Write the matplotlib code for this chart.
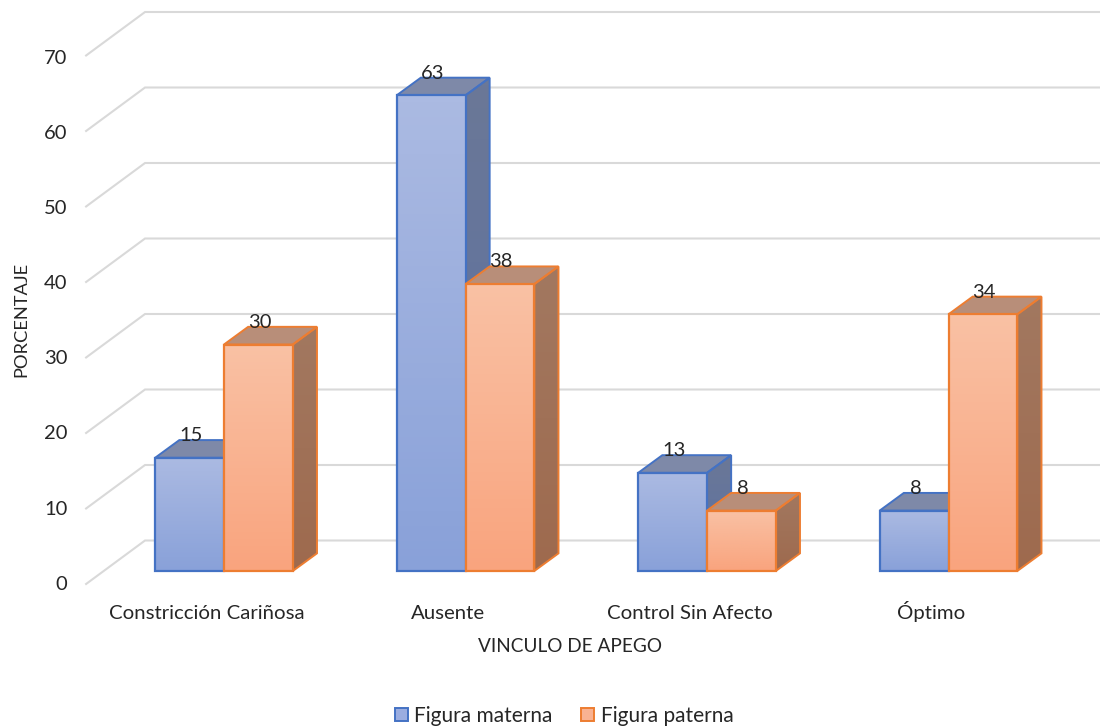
import numpy as np
import matplotlib
matplotlib.use("Agg")
import matplotlib.pyplot as plt
from matplotlib.colors import LinearSegmentedColormap
from matplotlib.patches import Patch, Polygon

plt.rcParams["font.family"] = ["Lato", "DejaVu Sans"]

# Data
categorias = ["Constricción Cariñosa", "Ausente", "Control Sin Afecto", "Óptimo"]
materna = [15, 63, 13, 8]
paterna = [30, 38, 8, 34]
ticks_y = [0, 10, 20, 30, 40, 50, 60, 70]

# Fake 3D geometry, in data units
ancho = 0.285
prof_x, prof_y = 0.1, 2.34
pared_x0, pared_x1 = -0.571, -0.327
pared_y0, pared_y1 = -1.72, 4.04
texto = "#262626"


def gradiente(ax, x0, x1, y0, y1, arriba, abajo, puntos):
    # vertical gradient clipped to a polygon
    cmap = LinearSegmentedColormap.from_list("g", [arriba, abajo])
    im = ax.imshow(np.linspace(0, 1, 64).reshape(-1, 1), cmap=cmap, aspect="auto",
                   extent=[x0, x1, y0, y1], origin="upper", zorder=3)
    poly = Polygon(puntos, closed=True, facecolor="none", edgecolor="none", zorder=3)
    ax.add_patch(poly)
    im.set_clip_path(poly)


def barra(ax, x0, v, colores):
    borde, frente, lado, tapa = colores
    x1 = x0 + ancho
    lado_pts = [(x1, 0), (x1 + prof_x, prof_y), (x1 + prof_x, v + prof_y), (x1, v)]
    tapa_pts = [(x0, v), (x0 + prof_x, v + prof_y), (x1 + prof_x, v + prof_y), (x1, v)]
    frente_pts = [(x0, 0), (x1, 0), (x1, v), (x0, v)]
    gradiente(ax, x1, x1 + prof_x, 0, v + prof_y, lado[0], lado[1], lado_pts)
    ax.add_patch(Polygon(tapa_pts, closed=True, facecolor=tapa, edgecolor=borde, lw=1.4, zorder=3))
    ax.add_patch(Polygon(lado_pts, closed=True, facecolor="none", edgecolor=borde, lw=1.4, zorder=3))
    gradiente(ax, x0, x1, 0, v, frente[0], frente[1], frente_pts)
    ax.add_patch(Polygon(frente_pts, closed=True, facecolor="none", edgecolor=borde, lw=1.6, zorder=3))


col_materna = ("#4472c4", ("#abbae2", "#89a1d9"), ("#6b7897", "#5b70a3"), "#7e89a8")
col_paterna = ("#ed7d31", ("#f9c1a4", "#f9a47e"), ("#a27860", "#9e6a4e"), "#b88e79")

fig = plt.figure(figsize=(11, 7.26), dpi=100)
ax = fig.add_axes([0, 0, 1, 1])
ax.set_axis_off()

# Walls: floor/side diagonals and back grid lines
for v in ticks_y:
    ax.plot([pared_x0, pared_x1, 3.63], [v + pared_y0, v + pared_y1, v + pared_y1],
            color="#d9d9d9", lw=1.5, zorder=1, solid_joinstyle="miter")
    ax.text(-0.648, v * 0.995 - 1.75, str(v), ha="right", va="center", fontsize=14.5, color=texto)

for i, (m, p) in enumerate(zip(materna, paterna)):
    barra(ax, i - ancho, m, col_materna)
    barra(ax, i, p, col_paterna)
    ax.text(i - ancho / 2 + 0.006, m + 2.95, str(m), ha="center", va="center", fontsize=14.5, color=texto, zorder=5)
    ax.text(i + ancho / 2 + 0.006, p + 2.95, str(p), ha="center", va="center", fontsize=14.5, color=texto, zorder=5)
    ax.text(i - 0.072, -6.36, categorias[i], ha="center", va="baseline", fontsize=14.7, color=texto)

ax.set_xlim(-224 / 241.5, 876 / 241.5)
ax.set_ylim(-155 / 7.55, 571 / 7.55)

ax.text(0.5185, 0.1095, "VINCULO DE APEGO", transform=ax.transAxes, ha="center", va="center",
        fontsize=13.7, color=texto)
ax.text(0.0195, 0.5595, "PORCENTAJE", transform=ax.transAxes, rotation=90, ha="center", va="center",
        fontsize=13.2, color=texto)

handles = [Patch(facecolor="#9bade0", edgecolor="#4472c4", lw=1.4, label="Figura materna"),
           Patch(facecolor="#f9b292", edgecolor="#ed7d31", lw=1.4, label="Figura paterna")]
fig.legend(handles=handles, loc="center", bbox_to_anchor=(0.5127, 0.0140), ncol=2, frameon=False,
           fontsize=15, handlelength=0.62, handleheight=0.62, handletextpad=0.3, columnspacing=1.4,
           labelcolor=texto)

fig.savefig("out.png", dpi=100)
